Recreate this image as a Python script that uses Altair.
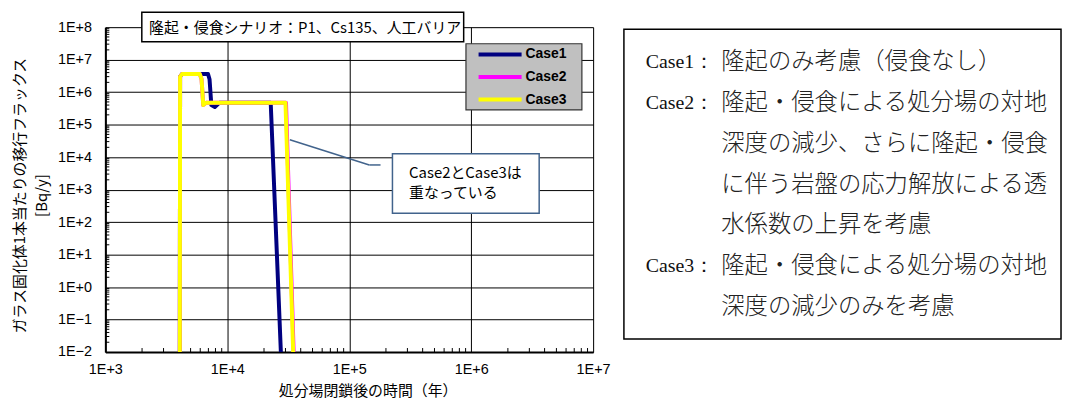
import altair as alt
import pandas as pd

# ---------------- data ----------------
SERIES = ["Case1", "Case2", "Case3"]
COLORS = ["#000080", "#FF00FF", "#FFFF00"]

CASE1_T = [4080, 4100, 4250, 6950, 7150, 7400, 7900, 8600, 22700, 27500]
CASE1_F = [1e-2, 3.0e6, 3.6e6, 3.6e6, 2.5e6, 4.0e5, 3.5e5, 4.7e5, 4.7e5, 1e-2]

CASE2_T = [4080, 4100, 4250, 5950, 6150, 6350, 6700, 30300, 35000]
CASE2_F = [1e-2, 3.0e6, 3.6e6, 3.6e6, 2.5e6, 4.0e5, 4.7e5, 4.7e5, 1e-2]

CASE3_T = [4080, 4100, 4250, 5950, 6150, 6350, 6700, 30000, 34700]
CASE3_F = [1e-2, 3.0e6, 3.6e6, 3.6e6, 2.5e6, 4.0e5, 4.7e5, 4.7e5, 1e-2]

X_TICKS = [1e3, 1e4, 1e5, 1e6, 1e7]
X_TICK_LABELS = ["1E+3", "1E+4", "1E+5", "1E+6", "1E+7"]
Y_TICKS = [1e-2, 1e-1, 1e0, 1e1, 1e2, 1e3, 1e4, 1e5, 1e6, 1e7, 1e8]
Y_TICK_LABELS = ["1E\u22122", "1E\u22121", "1E+0", "1E+1", "1E+2", "1E+3",
                 "1E+4", "1E+5", "1E+6", "1E+7", "1E+8"]
MINOR_MULT = [2, 3, 4, 5, 6, 7, 8, 9]

TITLE = "隆起・侵食シナリオ：P1、Cs135、人工バリア"
X_TITLE = "処分場閉鎖後の時間（年）"
Y_TITLE = ["ガラス固化体1本当たりの移行フラックス", "[Bq/y]"]
NOTE = ["Case2とCase3は", "重なっている"]
DESC_PREFIX = ["Case1：", "Case2：", "", "", "", "Case3：", ""]
DESC_BODY = ["隆起のみ考慮（侵食なし）",
             "隆起・侵食による処分場の対地",
             "深度の減少、さらに隆起・侵食",
             "に伴う岩盤の応力解放による透",
             "水係数の上昇を考慮",
             "隆起・侵食による処分場の対地",
             "深度の減少のみを考慮"]

# ---------------- layout ----------------
W, H = 491, 327
OX, OY = 106, 26   # page position of plot origin
JP = "Noto Sans CJK JP"
LAT = "Liberation Sans"


def px(x):
    return x - OX


def py(y):
    return y - OY


rows = []
for s, ts, fs in zip(SERIES, [CASE1_T, CASE2_T, CASE3_T], [CASE1_F, CASE2_F, CASE3_F]):
    for i, (t, f) in enumerate(zip(ts, fs)):
        rows.append({"series": s, "t": t, "f": f, "idx": i})
df = pd.DataFrame(rows)

xscale = alt.Scale(type="log", domain=[1e3, 1e7], nice=False)
yscale = alt.Scale(type="log", domain=[1e-2, 1e8], nice=False)

xlab = "[" + ",".join("'%s'" % s for s in X_TICK_LABELS) + "][round(log(datum.value)/LN10)-3]"
ylab = "[" + ",".join("'%s'" % s for s in Y_TICK_LABELS) + "][round(log(datum.value)/LN10)+2]"

xaxis = alt.Axis(values=X_TICKS, labelExpr=xlab, title=X_TITLE, grid=True, ticks=False,
                 labelFont=LAT, labelFontSize=14.5, labelColor="#000", labelPadding=11,
                 titleFont=JP, titleFontSize=15, titleFontWeight="normal", titleColor="#000",
                 titleBaseline="middle", titleX=264, titleY=39, titleAlign="center",
                 domainColor="#000", domainWidth=2,
                 gridColor="#000", gridWidth=1, gridOpacity=1, labelFlush=False)
yaxis = alt.Axis(values=Y_TICKS, labelExpr=ylab, title=Y_TITLE, grid=True, ticks=False,
                 labelFont=LAT, labelFontSize=14.5, labelColor="#000", labelPadding=14,
                 titleFont=JP, titleFontSize=15, titleFontWeight="normal", titleColor="#000",
                 titleLineHeight=22, titleBaseline="middle", titleAngle=270,
                 titleX=-86, titleY=169, titleAnchor="middle",
                 domainColor="#000", domainWidth=2,
                 gridColor="#000", gridWidth=1, gridOpacity=1, labelFlush=False)

layers = []

# background axes layer (first, carries axes)
base = alt.Chart(df[df.series == "Case3"]).mark_line(opacity=0).encode(
    x=alt.X("t:Q", scale=xscale, axis=xaxis),
    y=alt.Y("f:Q", scale=yscale, axis=yaxis),
)
layers.append(base)

# minor ticks
xminor = pd.DataFrame({"t": [m * 10 ** d for d in range(3, 7) for m in MINOR_MULT]})
yminor = pd.DataFrame({"f": [m * 10.0 ** d for d in range(-2, 8) for m in MINOR_MULT]})
layers.append(alt.Chart(xminor).mark_rule(color="#000", strokeWidth=1).encode(
    x="t:Q", y=alt.value(H), y2=alt.value(H - 4)))
layers.append(alt.Chart(yminor).mark_rule(color="#000", strokeWidth=1).encode(
    y="f:Q", x=alt.value(0), x2=alt.value(4)))

# data lines
for s, c in zip(SERIES, COLORS):
    layers.append(alt.Chart(df[df.series == s]).mark_line(
        strokeWidth=4, clip=True, color=c, strokeJoin="round").encode(
        x="t:Q", y="f:Q", order="idx:Q"))

one = pd.DataFrame({"a": [0]})


def rect(x1, y1, x2, y2, stroke="#000", sw=1.5, fill="#fff"):
    return alt.Chart(one).mark_rect(fill=fill, stroke=stroke, strokeWidth=sw).encode(
        x=alt.value(px(x1)), x2=alt.value(px(x2)), y=alt.value(py(y1)), y2=alt.value(py(y2)))


def text(x, y, s, font=JP, size=14, weight="normal", align="left", color="#000"):
    return alt.Chart(one).mark_text(font=font, fontSize=size, fontWeight=weight,
                                    align=align, baseline="middle", color=color).encode(
        x=alt.value(px(x)), y=alt.value(py(y)), text=alt.value(s))


def rule(x1, y1, x2, y2, color="#000", sw=1.5):
    return alt.Chart(one).mark_rule(color=color, strokeWidth=sw).encode(
        x=alt.value(px(x1)), x2=alt.value(px(x2)), y=alt.value(py(y1)), y2=alt.value(py(y2)))


# title box
layers.append(rect(142.7, 11, 466.7, 40.7))
layers.append(text(150, 26.5, TITLE, size=15))

# legend
layers.append(rect(469, 42.7, 585.7, 109.3, stroke="#333", sw=1.2, fill="#C0C0C0"))
for i, (s, c) in enumerate(zip(SERIES, COLORS)):
    yy = 53.5 + 22.7 * i
    layers.append(rule(481.7, yy, 525, yy, color=c, sw=4))
    layers.append(text(529, yy, s, font=LAT, size=14, weight="bold"))

# callout
NOTE_C = "#41638C"
layers.append(rule(291.7, 139.3, 371.7, 164.7, color=NOTE_C, sw=1.5))
layers.append(rule(371.7, 164.7, 383, 164.7, color=NOTE_C, sw=1.5))
layers.append(rect(395, 153.3, 542.7, 213.3, stroke=NOTE_C, sw=1.5))
layers.append(text(411.7, 173.3, NOTE[0], size=15))
layers.append(text(411.7, 193.3, NOTE[1], size=15))

# description box
layers.append(rect(628, 28, 1068, 340, stroke="#000", sw=1.5))
for i, (pre, body) in enumerate(zip(DESC_PREFIX, DESC_BODY)):
    yy = 61.5 + 41 * i
    if pre:
        layers.append(text(650, yy, pre, font="Liberation Serif", size=20, color="#111"))
    layers.append(text(726, yy, body, font=JP, size=23.5, weight=300, color="#222"))

chart = alt.layer(*layers).properties(
    width=W, height=H,
    autosize=alt.AutoSizeParams(type="none"),
    padding={"left": OX - 8, "top": OY - 8, "right": 1062 - (OX - 8) - W, "bottom": 391 - (OY - 8) - H},
).configure_view(fill="#C0C0C0", stroke="#000", strokeWidth=1).configure(background="#fff")

chart.save("out.html", embed_options={"renderer": "svg", "actions": False})
